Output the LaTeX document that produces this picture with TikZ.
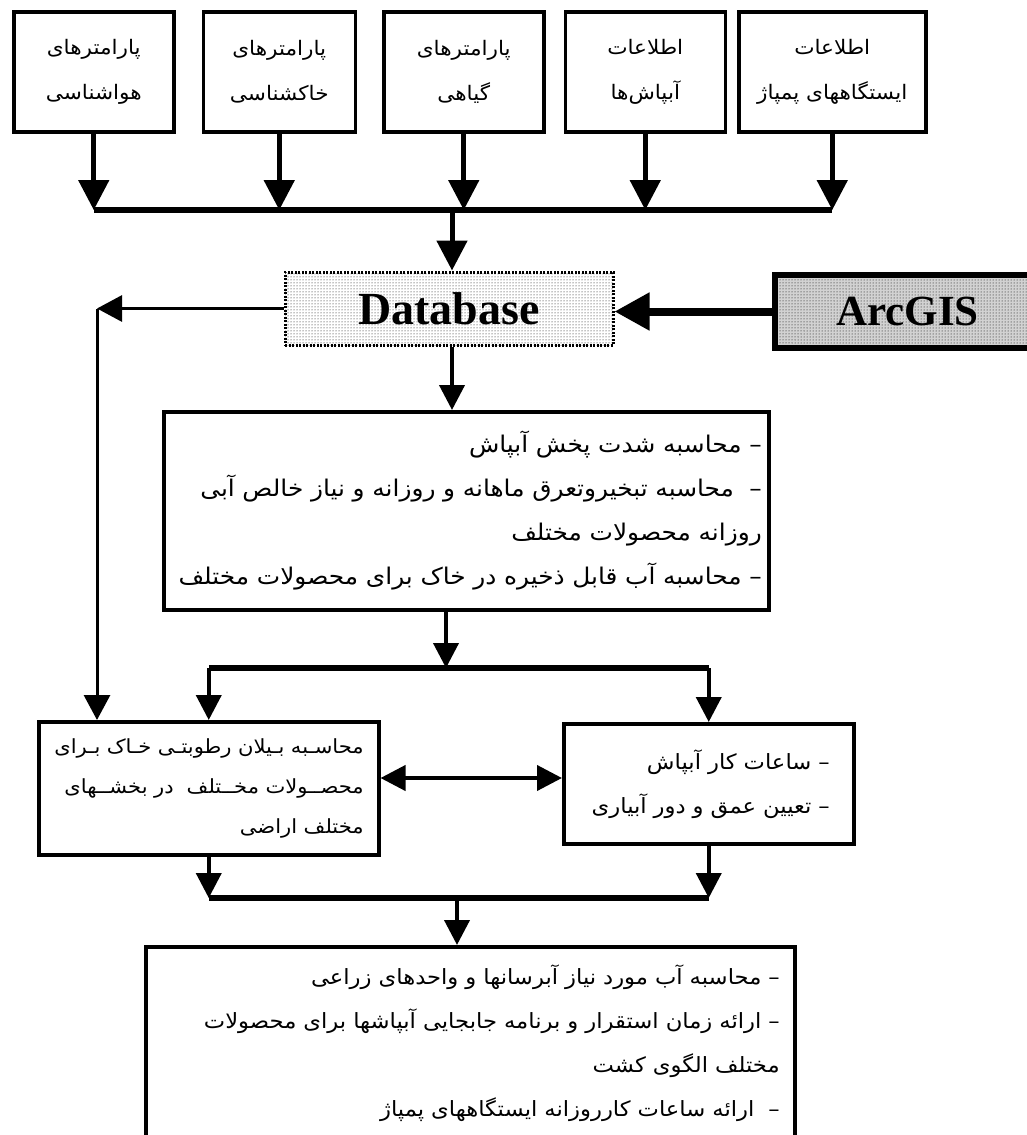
\documentclass[tikz,border=0pt]{standalone}
\usepackage{fontspec}
\setmainfont{Liberation Serif}
\newfontfamily\farsi[Script=Arabic,FakeStretch=1.08]{DejaVu Sans}
\TeXXeTstate=1
\usetikzlibrary{arrows.meta,patterns,positioning}
\newcommand{\fa}[1]{\mbox{\beginR #1\endR}}

\begin{document}
\begin{tikzpicture}[x=1pt,y=-1pt,
  box/.style={draw,line width=3.5pt,inner sep=0pt,font=\farsi\fontsize{20}{45}\selectfont},
  topbox/.style={box,minimum height=120pt,align=center},
  textbox/.style={box,align=right,anchor=north west},
  big/.style={line width=5pt,-{Triangle[length=30pt,width=30pt]}},
  mid/.style={line width=4pt,-{Triangle[length=25pt,width=25pt]}},
  thin/.style={line width=3pt,-{Triangle[length=25pt,width=26pt]}},
  bus/.style={line width=6pt}]

\useasboundingbox (0,0) rectangle (1027,1135);
\clip (0,0) rectangle (1027,1135);

\node[topbox,minimum width=160pt,anchor=north west] (met) at (12,10) {\fa{پارامترهای}\\\fa{هواشناسی}};
\node[topbox,minimum width=152pt,right=26pt of met] (soilp) {\fa{پارامترهای}\\\fa{خاکشناسی}};
\node[topbox,minimum width=160pt,right=25pt of soilp] (plant) {\fa{پارامترهای}\\\fa{گیاهی}};
\node[topbox,minimum width=160pt,right=18pt of plant] (sprk) {\fa{اطلاعات}\\\fa{آبپاش‌ها}};
\node[topbox,minimum width=187pt,right=10pt of sprk] (pump) {\fa{اطلاعات}\\\fa{ایستگاههای پمپاژ}};

\node[draw,line width=3pt,dash pattern=on 2pt off 1.5pt,fill=white,postaction={pattern=dots},
  minimum width=328pt,minimum height=73pt,font=\fontsize{46}{46}\bfseries] (db) at (449,308.5) {Database};
\node[draw,line width=6pt,fill=gray!35,postaction={pattern=dots},anchor=west,
  minimum width=265pt,minimum height=73pt,font=\fontsize{43}{43}\bfseries] (gis) at (772,311.5) {ArcGIS};

\node[textbox,minimum width=605pt,minimum height=198pt,text width=591pt,inner xsep=7pt,
  font=\farsi\fontsize{23}{44}\selectfont] (calc) at (162,410)
  {\fa{– محاسبه شدت پخش آبپاش}\\
   \fa{–~ محاسبه تبخیروتعرق ماهانه و روزانه و نیاز خالص آبی}\\
   \fa{روزانه محصولات مختلف}\\
   \fa{– محاسبه آب قابل ذخیره در خاک برای محصولات مختلف}};

\node[textbox,minimum width=340pt,minimum height=133pt,text width=310pt,inner xsep=15pt,
  font=\farsi\fontsize{19.5}{40}\selectfont] (bal) at (37,720)
  {\fa{محاسـبه بـیلان رطوبتـی خـاک بـرای}\\
   \fa{محصــولات مخــتلف~ در بخشــهای}\\
   \fa{مختلف اراضی}};

\node[textbox,minimum width=290pt,minimum height=120pt,text width=242pt,inner xsep=24pt,
  font=\farsi\fontsize{21}{44}\selectfont] (work) at (562,722)
  {\fa{– ساعات کار آبپاش}\\
   \fa{– تعیین عمق و دور آبیاری}};

\node[textbox,minimum width=649pt,minimum height=192pt,text width=619pt,inner xsep=15pt,
  font=\farsi\fontsize{21}{44}\selectfont] (out) at (144,945)
  {\fa{– محاسبه آب مورد نیاز آبرسانها و واحدهای زراعی}\\
   \fa{– ارائه زمان استقرار و برنامه جابجایی آبپاشها برای محصولات}\\
   \fa{مختلف الگوی کشت}\\
   \fa{–~ ارائه ساعات کارروزانه ایستگاههای پمپاژ}};

\coordinate (bus) at (452,210);
\coordinate (side) at (97,308.5);
\coordinate (split) at (446,668);
\coordinate (pair) at (470,778);
\coordinate (join) at (457,898);

\foreach \n in {met,soilp,plant,sprk,pump}
  \draw[big] (\n.south) -- (\n.south |- bus);
\draw[bus] (met.south |- bus) -- (pump.south |- bus);
\draw[big] (bus) -- (bus |- db.north);

\draw[line width=8pt,-{Triangle[length=35pt,width=36pt]}] (gis.west) -- (gis.west -| db.east);
\draw[thin] (db.west) -- (side);
\draw[thin] (side) -- (side |- bal.north);

\draw[mid] (bus |- db.south) -- (bus |- calc.north);
\draw[mid] (split |- calc.south) -- (split);
\draw[bus] (split -| bal.north) -- (split -| work.north);
\draw[mid] (split -| bal.north) -- (bal.north);
\draw[mid] (split -| work.north) -- (work.north);

\draw[line width=4pt,{Triangle[length=25pt,width=25pt]}-{Triangle[length=25pt,width=25pt]}]
  (pair -| bal.east) -- (pair -| work.west);

\draw[mid] (bal.south) -- (join -| bal.south);
\draw[mid] (work.south) -- (join -| work.south);
\draw[bus] (join -| bal.south) -- (join -| work.south);
\draw[mid] (join) -- (join |- out.north);
\end{tikzpicture}
\end{document}
